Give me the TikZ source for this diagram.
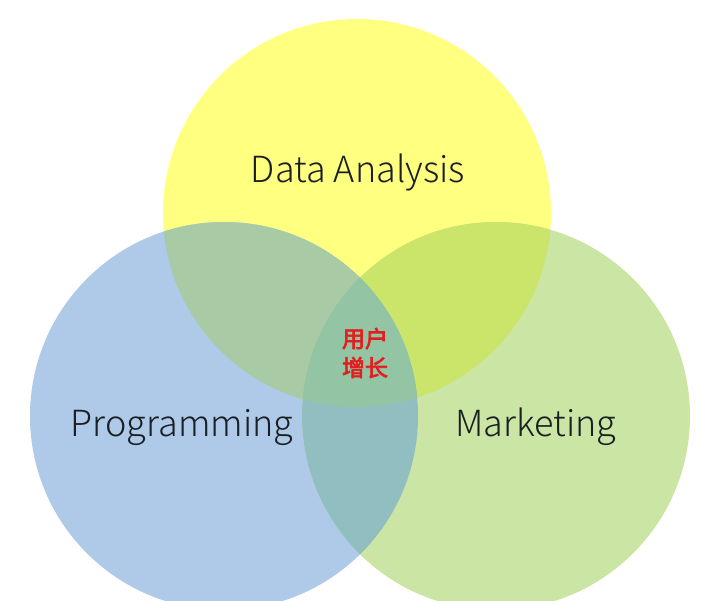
\documentclass[tikz,border=0pt]{standalone}
\usepackage{fontspec}
\setmainfont{Noto Sans CJK SC Light}
\newfontfamily\cjkb{Noto Sans CJK SC}[FakeBold=3]
\definecolor{cy}{HTML}{FFFF80}
\definecolor{cb}{HTML}{AECAE8}
\definecolor{cg}{HTML}{CBE5A5}
\definecolor{cyb}{HTML}{A8CBA6}
\definecolor{cyg}{HTML}{CBE46A}
\definecolor{cbg}{HTML}{91BEC0}
\definecolor{call}{HTML}{93C4A4}
\definecolor{ctxt}{HTML}{1A1F22}
\definecolor{cred}{HTML}{E02020}
\tikzset{
  label/.style={text=ctxt, font=\fontsize{36}{40}\selectfont, inner sep=0pt},
  core/.style={text=cred, font=\cjkb\fontsize{23}{29}\selectfont, align=center, inner sep=0pt}
}
\begin{document}
\begin{tikzpicture}[x=1pt,y=-1pt]
\useasboundingbox (0,0) rectangle (720,600);
\fill[white] (0,0) rectangle (720,600);
\clip (0,0) rectangle (720,600);
\coordinate (Y) at (357,213);
\coordinate (B) at (224,416);
\coordinate (G) at (496,416);
\fill[cy] (Y) circle[radius=194pt];
\fill[cb] (B) circle[radius=194pt];
\fill[cg] (G) circle[radius=194pt];
\begin{scope}
  \clip (Y) circle[radius=194pt];
  \fill[cyb] (B) circle[radius=194pt];
  \fill[cyg] (G) circle[radius=194pt];
\end{scope}
\begin{scope}
  \clip (B) circle[radius=194pt];
  \fill[cbg] (G) circle[radius=194pt];
\end{scope}
\begin{scope}
  \clip (B) circle[radius=194pt];
  \clip (G) circle[radius=194pt];
  \fill[call] (Y) circle[radius=194pt];
\end{scope}
\node[label] (da) at (358,173) {Data Analysis};
\node[label] (pr) at (182,427) {Programming};
\node[label] (mk) at (536,427) {Marketing};
\node[core] (ug) at (365,353) {用户\\增长};
\end{tikzpicture}
\end{document}
